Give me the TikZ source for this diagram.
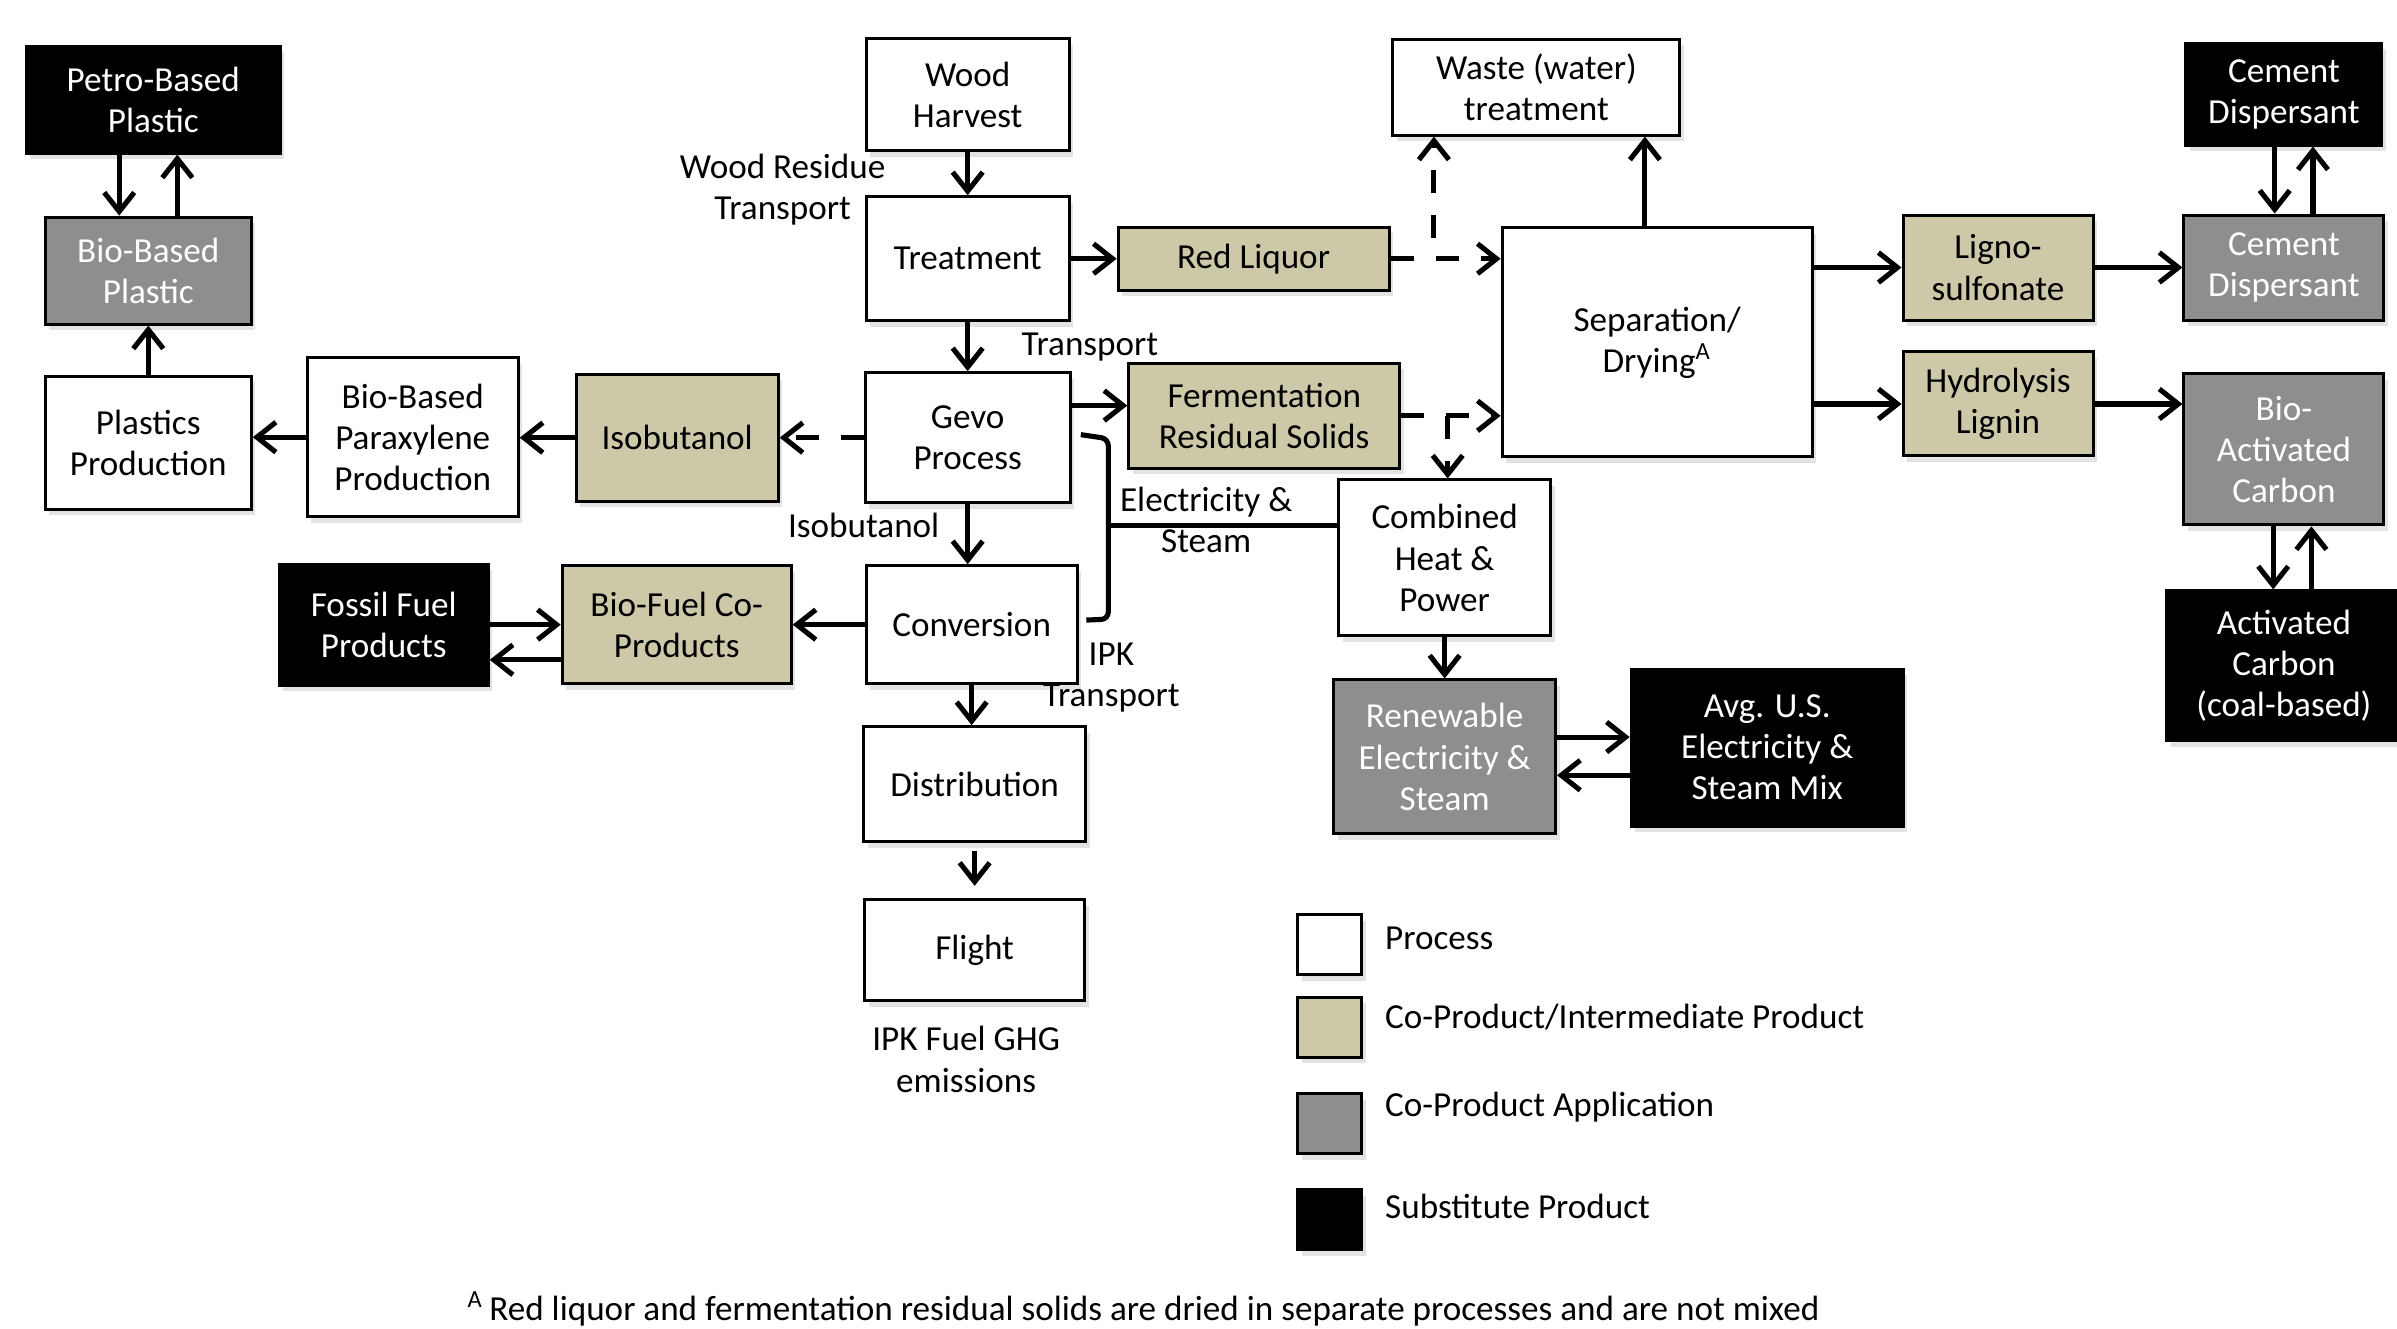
\documentclass[tikz,border=0pt]{standalone}
\usepackage{fontspec}
\setmainfont{Carlito}
\usetikzlibrary{positioning}
\usetikzlibrary{calc}
\usetikzlibrary{arrows.meta}
\usetikzlibrary{shadows}
\definecolor{coprod}{RGB}{205,200,168}
\definecolor{coapp}{RGB}{142,142,142}

\begin{document}
\begin{tikzpicture}[x=0.015287cm, y=-0.015287cm, font=\fontsize{10}{11.7}\selectfont,
    box/.style={rectangle, draw=black, line width=0.85pt, align=center, inner sep=1pt,
        drop shadow={opacity=0.22, shadow xshift=0.4mm, shadow yshift=-0.6mm}},
    proc/.style={box, fill=white},
    prod/.style={box, fill=coprod},
    appl/.style={box, fill=coapp, text=white},
    subs/.style={box, fill=black, text=white},
    flow/.style={-{Straight Barb[length=1.9mm, width=3mm]}, line width=1.45pt},
    dflow/.style={flow, dash pattern=on 2.3mm off 2.2mm},
    feed/.style={line width=1.45pt, rounded corners=2pt},
    lbl/.style={align=center}]

            \useasboundingbox (0,0) rectangle (1568,869);

            % main process column
            \node[proc, minimum width=2.03cm, minimum height=1.12cm] (WH) at (633,62)
                {Wood\\Harvest};
            \node[proc, minimum width=2.03cm, minimum height=1.24cm, below=0.43cm of WH] (TR)
                {Treatment};
            \node[proc, minimum width=2.05cm, minimum height=1.30cm, below=0.49cm of TR] (GP)
                {Gevo\\Process};
            \node[proc, minimum width=2.11cm, minimum height=1.18cm, below=0.60cm of GP, xshift=0.04cm] (CV)
                {Conversion};
            \node[proc, minimum width=2.22cm, minimum height=1.15cm, below=0.40cm of CV, xshift=0.03cm] (DI)
                {Distribution};
            \node[proc, minimum width=2.20cm, minimum height=1.01cm, below=0.55cm of DI] (FL)
                {Flight};

            % plastics branch
            \node[prod, minimum width=2.02cm, minimum height=1.27cm, left=0.84cm of GP] (IB)
                {Isobutanol};
            \node[proc, minimum width=2.11cm, minimum height=1.59cm] (PX) at (270,286)
                {Bio-Based\\Paraxylene\\Production};
            \node[appl, minimum width=2.06cm, minimum height=1.07cm] (BP) at (97,177)
                {Bio-Based\\Plastic};
            \node[proc, minimum width=2.06cm, minimum height=1.33cm, below=0.49cm of BP] (PP)
                {Plastics\\Production};
            \node[subs, minimum width=2.54cm, minimum height=1.07cm, above=0.61cm of BP, xshift=0.05cm] (PB)
                {Petro-Based\\Plastic};

            % fuel co-products
            \node[prod, minimum width=2.29cm, minimum height=1.18cm, left=0.72cm of CV] (BF)
                {Bio-Fuel Co-\\Products};
            \node[subs, minimum width=2.09cm, minimum height=1.21cm, left=0.71cm of BF] (FF)
                {Fossil Fuel\\Products};

            % lignin side
            \node[prod, minimum width=2.71cm, minimum height=0.63cm, right=0.46cm of TR] (RL)
                {Red Liquor};
            \node[prod, minimum width=2.71cm, minimum height=1.05cm] (FR) at (827,272)
                {Fermentation\\Residual Solids};
            \node[proc, minimum width=2.87cm, minimum height=0.96cm] (WW) at (1005,57)
                {Waste (water)\\treatment};
            \node[proc, minimum width=3.10cm, minimum height=2.29cm] (SD) at (1084,224)
                {Separation/\\Drying\textsuperscript{A}};
            \node[proc, minimum width=2.12cm, minimum height=1.56cm] (CHP) at (945,365)
                {Combined\\Heat \&\\Power};
            \node[appl, minimum width=2.22cm, minimum height=1.54cm, below=0.41cm of CHP] (RE)
                {Renewable\\Electricity \&\\Steam};
            \node[subs, minimum width=2.72cm, minimum height=1.57cm] (US) at (1156,489)
                {Avg. U.S.\\Electricity \&\\Steam Mix};
            \node[prod, minimum width=1.90cm, minimum height=1.05cm] (LS) at (1307,175)
                {Ligno-\\sulfonate};
            \node[prod, minimum width=1.90cm, minimum height=1.04cm, below=0.29cm of LS] (HL)
                {Hydrolysis\\Lignin};
            \node[appl, minimum width=2.00cm, minimum height=1.05cm] (CDg) at (1494,175)
                {Cement\\Dispersant};
            \node[subs, minimum width=1.96cm, minimum height=1.02cm, above=0.67cm of CDg] (CDb)
                {Cement\\Dispersant};
            \node[appl, minimum width=2.00cm, minimum height=1.51cm] (BAC) at (1494,294)
                {Bio-\\Activated\\Carbon};
            \node[subs, minimum width=2.34cm, minimum height=1.50cm, below=0.63cm of BAC] (ACC)
                {Activated\\Carbon\\(coal-based)};

            % flow labels
            \node[lbl] (tWR) at (512,124) {Wood Residue\\Transport};
            \node[lbl] (tTR) at (713,227) {Transport};
            \node[lbl] (tIB) at (565,344) {Isobutanol};
            \node[lbl] (tES) at (789,340) {Electricity \&\\Steam};
            \node[lbl] (tIPK) at (727,443) {IPK\\Transport};
            \node[lbl] (tGHG) at (632,693) {IPK Fuel GHG\\emissions};

            % legend
            \node[proc, minimum width=0.64cm, minimum height=0.60cm] (LgA) at (870,618) {};
            \node[prod, minimum width=0.64cm, minimum height=0.60cm] (LgB) at (870,672) {};
            \node[appl, minimum width=0.64cm, minimum height=0.60cm] (LgC) at (870,735) {};
            \node[subs, minimum width=0.64cm, minimum height=0.60cm] (LgD) at (870,798) {};
            \node[anchor=west] (LtA) at (898,614) {Process};
            \node[anchor=west] (LtB) at (898,665) {Co-Product/Intermediate Product};
            \node[anchor=west] (LtC) at (898,724) {Co-Product Application};
            \node[anchor=west] (LtD) at (898,789) {Substitute Product};

            \node (fn) at (748,856)
                {\textsuperscript{A}\,Red liquor and fermentation residual solids are dried in separate processes and are not mixed};

            \coordinate (RJ) at (938,170);
            \coordinate (FJ) at (947,272);
            \coordinate (SDt) at ($(SD.north)+(-8,0)$);
            \coordinate (GPf) at ($(GP.east)+(0,-21)$);
            \coordinate (BKt) at (725,287);
            \coordinate (BKm) at (725,344);
            \coordinate (BKb) at (725,405);
            \coordinate (REa) at ($(RE.east)+(0,-13)$);
            \coordinate (REb) at ($(RE.east)+(0,12)$);
            \coordinate (BFb) at ($(BF.west)+(0,23)$);
            \coordinate (BPl) at ($(BP.north)+(-19,0)$);
            \coordinate (BPr) at ($(BP.north)+(19,0)$);

            \draw[flow] (WH) -- (TR);
            \draw[flow] (TR) -- (GP);
            \draw[flow] (GP.south) -- (GP.south |- CV.north);
            \draw[flow] (CV.south) -- (CV.south |- DI.north);
            \draw[flow, shorten <=2.2pt, shorten >=3.5pt] (DI.south) -- (DI.south |- FL.north);

            \draw[dflow] (GP) -- (IB);
            \draw[flow] (IB.west) -- (IB.west -| PX.east);
            \draw[flow] (PX.west) -- (PX.west -| PP.east);
            \draw[flow] (PP) -- (BP);
            \draw[flow] (BPl |- PB.south) -- (BPl);
            \draw[flow] (BPr) -- (BPr |- PB.south);

            \draw[flow] (CV) -- (BF);
            \draw[flow] (FF) -- (BF);
            \draw[flow] (BFb) -- (BFb -| FF.east);

            \draw[flow] (TR) -- (RL);
            \draw[dflow] (RL.east) -- (RL.east -| SD.west);
            \draw[dflow, dash phase=2.3mm] (RJ) -- (RJ |- WW.south);
            \draw[flow] (SDt) -- (SDt |- WW.south);
            \draw[flow] (GPf) -- (GPf -| FR.west);
            \draw[dflow] (FR.east) -- (FJ) -- (FJ -| SD.west);
            \draw[dflow] (FJ) -- (FJ |- CHP.north);

            \draw[feed] ($(GP.east)+(6,-2)$) -- (BKt) -- (BKb) -- ($(CV.east)+(5,-3)$);
            \draw[feed] (BKm) -- (BKm -| CHP.west);

            \draw[flow] (CHP) -- (RE);
            \draw[flow] (REa) -- (REa -| US.west);
            \draw[flow] (REb -| US.west) -- (REb);

            \draw[flow] (LS.west -| SD.east) -- (LS.west);
            \draw[flow] (HL.west -| SD.east) -- (HL.west);
            \draw[flow] (LS) -- (CDg);
            \draw[flow] (HL.east) -- (HL.east -| BAC.west);
            \draw[flow] ($(CDb.south)+(-6,0)$) -- ($(CDg.north)+(-6,0)$);
            \draw[flow] ($(CDg.north)+(19,0)$) -- ($(CDb.south)+(19,0)$);
            \draw[flow] ($(BAC.south)+(-7,0)$) -- ($(ACC.north)+(-7,0)$);
            \draw[flow] ($(ACC.north)+(18,0)$) -- ($(BAC.south)+(18,0)$);
        \end{tikzpicture}
\end{document}
